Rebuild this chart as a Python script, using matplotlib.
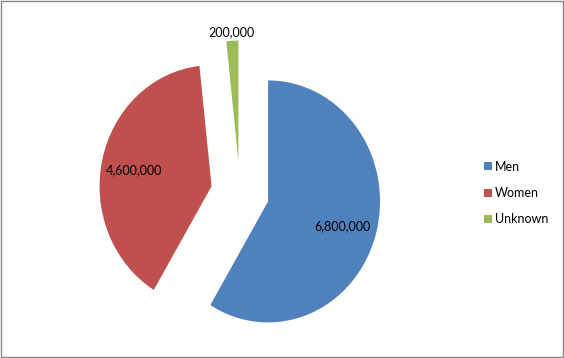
import numpy as np
import matplotlib
matplotlib.use('Agg')
import matplotlib.pyplot as plt
from matplotlib.patches import Rectangle

# dados do grafico
categories = ['Men', 'Women', 'Unknown']
values = [6800000, 4600000, 200000]
value_labels = ['6,800,000', '4,600,000', '200,000']
colors = ['#4F81BD', '#C0504D', '#9BBB59']

plt.rcParams['font.family'] = ['Lato', 'DejaVu Sans']

fig = plt.figure(figsize=(5.64, 3.58), dpi=100)
ax = fig.add_axes([0, 0, 1, 1])

wedges, _ = ax.pie(values, colors=colors, startangle=90, counterclock=False,
                   explode=[0.26, 0.26, 0.26], radius=1.0)

# rotulos de valores dentro/fora das fatias
for w, lab, dist in zip(wedges, value_labels, [0.69, 0.71, 1.09]):
    ang = np.deg2rad((w.theta1 + w.theta2) / 2)
    cx, cy = w.center
    ax.text(cx + dist * np.cos(ang), cy + dist * np.sin(ang) - 0.02, lab,
            ha='center', va='center', fontsize=9, color='black')

# eixo esticado como no original (pizza levemente eliptica)
ax.set_aspect('auto')
ax.set_xlim(-240 / 112, (564 - 240) / 112)
ax.set_ylim(-(358 - 193) / 121, 193 / 121)
ax.axis('off')

leg = fig.legend(wedges, categories, loc='center left',
                 bbox_to_anchor=(484 / 564, 1 - 193 / 358), frameon=False,
                 fontsize=9, handlelength=0.6, handleheight=0.6,
                 handletextpad=0.3, labelspacing=1.15, borderpad=0,
                 borderaxespad=0)

# borda cinza do grafico
fig.patches.append(Rectangle((0.001, 0.002), 0.997, 0.995, transform=fig.transFigure,
                             fill=False, edgecolor='#868686', linewidth=1))

fig.savefig('out.png', dpi=100)
